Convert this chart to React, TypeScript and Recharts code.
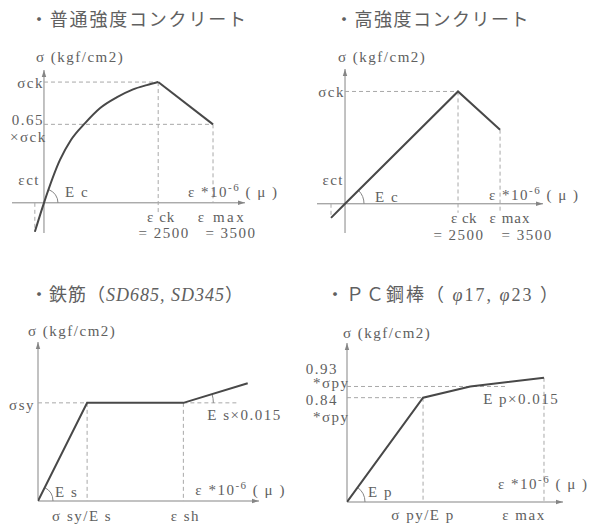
import type { ReactNode } from "react";
import { Line, LineChart, ReferenceDot, ReferenceLine, XAxis, YAxis } from "recharts";

// 普通強度コンクリート: ε (×10^-6) / σ÷σck
const ncRiseStrain = [-200, 0, 350, 590, 900, 1230, 1600, 1950, 2250, 2500];
const ncRiseStress = [-0.24, 0, 0.355, 0.52, 0.66, 0.785, 0.875, 0.94, 0.975, 1];
const ncFallStrain = [2500, 3700];
const ncFallStress = [1, 0.65];

// 高強度コンクリート
const hcStrain = [-310, 0, 2500, 3430];
const hcStress = [-0.125, 0, 1, 0.66];

// 鉄筋: ε ÷ (σsy/Es) / σ÷σsy
const rbStrain = [0, 1, 2.96, 4.27];
const rbStress = [0, 1, 1, 1.2];

// PC鋼棒: ε ÷ (σpy/Ep) / σ÷σpy
const pcStrain = [0, 1, 1.62, 2.59];
const pcStress = [0, 0.84, 0.93, 1];

const titles = ["・普通強度コンクリート", "・高強度コンクリート", "・鉄筋（", "・ＰＣ鋼棒（ "];
const yUnit = "σ (kgf/cm2)";
const ncTicks = ["σck", "0.65", "×σck", "εct", "E c"];
const ncXTicks = ["ε ck", "= 2500", "ε max", "= 3500"];
const rbTicks = ["σsy", "E s", "E s×0.015", "σ sy/E s", "ε sh"];
const pcTicks = ["0.93", "*σpy", "0.84", "*σpy", "E p×0.015", "E p", "σ py/E p", "ε max"];

const AXIS = "#858585";
const CURVE = "#484848";
const GUIDE = "#a8a8a8";
const INK = "#606060";
const FONT = "'Liberation Serif', 'Noto Sans CJK JP', serif";

type P = { x: number; y: number };
const pts = (xs: number[], ys: number[]): P[] => xs.map((x, i) => ({ x, y: ys[i] }));

const axisH = (p: any) => {
  const xs = Math.min(p.x1, p.x2);
  const xe = Math.max(p.x1, p.x2);
  return (
    <g>
      <line x1={xs} y1={p.y1} x2={xe} y2={p.y1} stroke={AXIS} strokeWidth={1} />
      <path d={`M${xe},${p.y1} l-7,-2.2 l0,4.4 z`} fill={AXIS} />
    </g>
  );
};

const axisV = (p: any) => {
  const ys = Math.min(p.y1, p.y2);
  const ye = Math.max(p.y1, p.y2);
  return (
    <g>
      <line x1={p.x1} y1={ys} x2={p.x1} y2={ye} stroke={AXIS} strokeWidth={1} />
      <path d={`M${p.x1},${ys} l-2.2,7 l4.4,0 z`} fill={AXIS} />
    </g>
  );
};

// angle mark from the horizontal up to the segment's direction
const arc = (r: number) => (p: any) => {
  const a = Math.atan2(p.y1 - p.y2, p.x2 - p.x1);
  const ex = p.x1 + r * Math.cos(a);
  const ey = p.y1 - r * Math.sin(a);
  return <path d={`M${p.x1 + r},${p.y1} A${r},${r} 0 0 0 ${ex},${ey}`} fill="none" stroke={AXIS} />;
};

const guide = (key: string, a: P, b: P) => (
  <ReferenceLine
    key={key}
    segment={[a, b]}
    stroke={GUIDE}
    strokeDasharray="4 3"
    ifOverflow="visible"
  />
);

const note = (
  key: string,
  x: number,
  y: number,
  content: ReactNode,
  dx: number,
  dy: number,
  anchor: "start" | "middle" | "end" = "start",
  spacing = 1.5,
) => (
  <ReferenceDot
    key={key}
    x={x}
    y={y}
    r={0}
    ifOverflow="visible"
    shape={(p: any) => (
      <text
        x={p.cx + dx}
        y={p.cy + dy}
        textAnchor={anchor}
        fontSize={15}
        fontFamily={FONT}
        fill={INK}
        letterSpacing={spacing}
      >
        {content}
      </text>
    )}
  />
);

const strainUnit = (
  <>
    <tspan>ε *10</tspan>
    <tspan dy={-6} fontSize={11}>
      -6
    </tspan>
    <tspan dy={6}>{"  ( μ )"}</tspan>
  </>
);

const curve = (key: string, data: P[], type: "linear" | "monotone" = "linear") => (
  <Line
    key={key}
    data={data}
    dataKey="y"
    type={type}
    stroke={CURVE}
    strokeWidth={2}
    dot={false}
    activeDot={false}
    isAnimationActive={false}
  />
);

const axes = (xd: [number, number], yd: [number, number]) => [
  <XAxis key="xa" type="number" dataKey="x" domain={xd} hide allowDataOverflow />,
  <YAxis key="ya" type="number" domain={yd} hide allowDataOverflow />,
  <ReferenceLine key="x0" y={0} shape={axisH} ifOverflow="visible" />,
  <ReferenceLine key="y0" x={0} shape={axisV} ifOverflow="visible" />,
];

function NormalConcrete() {
  const rise = pts(ncRiseStrain, ncRiseStress);
  const fall = pts(ncFallStrain, ncFallStress);
  const [eck, emax] = ncFallStrain;
  const [top, low] = ncFallStress;
  const s = rise[0];
  return (
    <LineChart width={294} height={262} margin={{ top: 70, right: 49, bottom: 29, left: 12 }}>
      {axes([-700, 4400], [-0.25, 1.1])}
      {guide("g1", { x: 0, y: top }, { x: eck, y: top })}
      {guide("g2", { x: 0, y: low }, { x: emax, y: low })}
      {guide("g3", { x: eck, y: top }, { x: eck, y: -0.1 })}
      {guide("g4", { x: emax, y: low }, { x: emax, y: 0 })}
      {guide("g5", { x: s.x, y: 0 }, { x: s.x, y: s.y })}
      <ReferenceLine segment={[rise[1], rise[2]]} shape={arc(14)} ifOverflow="visible" />
      {curve("c1", rise, "monotone")}
      {curve("c2", fall)}
      {note("u", 0, 1.1, yUnit, -8, -8)}
      {note("t1", 0, top, ncTicks[0], 0, 6, "end")}
      {note("t2", 0, low, ncTicks[1], 0, 1, "end")}
      {note("t3", 0, low, ncTicks[2], -34, 18)}
      {note("t4", 0, 0, ncTicks[3], -4, -18, "end")}
      {note("t5", 0, 0, ncTicks[4], 21, -6)}
      {note("t6", emax, 0, strainUnit, -25, -6)}
      {note("x1", eck, 0, ncXTicks[0], 3, 19, "middle", 1)}
      {note("x2", eck, 0, ncXTicks[1], 6, 35, "middle")}
      {note("x3", emax, 0, ncXTicks[2], 9, 19, "middle", 2.5)}
      {note("x4", emax, 0, ncXTicks[3], 18, 35, "middle")}
    </LineChart>
  );
}

function HighConcrete() {
  const line = pts(hcStrain, hcStress);
  const [s, o, peak, end] = line;
  return (
    <LineChart width={294} height={262} margin={{ top: 69, right: 46, bottom: 29, left: 22 }}>
      {axes([-620, 4380], [-0.26, 1.2])}
      {guide("g1", { x: 0, y: peak.y }, peak)}
      {guide("g2", peak, { x: peak.x, y: -0.08 })}
      {guide("g3", end, { x: end.x, y: -0.08 })}
      {guide("g4", { x: s.x, y: 0 }, s)}
      <ReferenceLine segment={[o, peak]} shape={arc(19)} ifOverflow="visible" />
      {curve("c1", line)}
      {note("u", 0, 1.2, yUnit, -7, -7)}
      {note("t1", 0, peak.y, ncTicks[0], 0, 5.5, "end")}
      {note("t4", 0, 0, ncTicks[3], -1, -19, "end")}
      {note("t5", 0, 0, ncTicks[4], 30, -2)}
      {note("t6", end.x, 0, strainUnit, -11, -4)}
      {note("x1", peak.x, 0, ncXTicks[0], 6, 19, "middle", 0.5)}
      {note("x2", peak.x, 0, ncXTicks[1], 1, 36, "middle")}
      {note("x3", end.x, 0, ncXTicks[2], 10, 19, "middle", 1)}
      {note("x4", end.x, 0, ncXTicks[3], 27, 36, "middle")}
    </LineChart>
  );
}

function Rebar() {
  const line = pts(rbStrain, rbStress);
  const [o, yld, sh, end] = line;
  return (
    <LineChart width={294} height={262} margin={{ top: 80, right: 35, bottom: 23, left: 38 }}>
      {axes([0, 4.5], [0, 1.62])}
      {guide("g1", { x: 0, y: yld.y }, yld)}
      {guide("g2", sh, { x: 4.08, y: sh.y })}
      {guide("g3", yld, { x: yld.x, y: 0 })}
      {guide("g4", sh, { x: sh.x, y: 0 })}
      <ReferenceLine segment={[o, yld]} shape={arc(15)} ifOverflow="visible" />
      <ReferenceLine segment={[sh, end]} shape={arc(30)} ifOverflow="visible" />
      {curve("c1", line)}
      {note("u", 0, 1.62, yUnit, -10, -6)}
      {note("t1", 0, yld.y, rbTicks[0], -3, 7, "end")}
      {note("t2", 0, 0, rbTicks[1], 17, -4)}
      {note("t3", sh.x, sh.y, rbTicks[2], 24, 17)}
      {note("t4", sh.x, 0, strainUnit, 12, -6)}
      {note("x1", yld.x, 0, rbTicks[3], -5, 20, "middle")}
      {note("x2", sh.x, 0, rbTicks[4], 2, 20, "middle")}
    </LineChart>
  );
}

function PcBar() {
  const line = pts(pcStrain, pcStress);
  const [o, knee, mid, end] = line;
  return (
    <LineChart width={294} height={262} margin={{ top: 81, right: 26, bottom: 22, left: 52 }}>
      {axes([0, 2.84], [0, 1.28])}
      {guide("g1", { x: 0, y: knee.y }, knee)}
      {guide("g2", { x: 0, y: mid.y }, { x: 2.08, y: mid.y })}
      {guide("g3", knee, { x: knee.x, y: 0 })}
      {guide("g4", end, { x: end.x, y: 0 })}
      <ReferenceLine segment={[o, knee]} shape={arc(18)} ifOverflow="visible" />
      {curve("c1", line)}
      {note("u", 0, 1.28, yUnit, -4, -5)}
      {note("t1", 0, mid.y, pcTicks[0], -9, -12, "end")}
      {note("t2", 0, mid.y, pcTicks[1], -34, 2)}
      {note("t3", 0, knee.y, pcTicks[2], -9, 7, "end")}
      {note("t4", 0, knee.y, pcTicks[3], -34, 24)}
      {note("t5", mid.x, mid.y, pcTicks[4], 13, 18)}
      {note("t6", 0, 0, pcTicks[5], 21, -5)}
      {note("t7", end.x, 0, strainUnit, -46, -13)}
      {note("x1", knee.x, 0, pcTicks[6], 0, 18, "middle")}
      {note("x2", end.x, 0, pcTicks[7], -20, 18, "middle")}
    </LineChart>
  );
}

const titleStyle = {
  position: "absolute" as const,
  fontFamily: FONT,
  fontSize: 18,
  lineHeight: "18px",
  letterSpacing: 1.8,
  color: INK,
  whiteSpace: "pre" as const,
};

const at = (left: number, top: number, child: ReactNode) => (
  <div style={{ position: "absolute", left, top }}>{child}</div>
);

export default function App() {
  return (
    <div
      style={{
        position: "absolute",
        left: 0,
        top: 0,
        width: 589,
        height: 524,
        background: "#fff",
        overflow: "hidden",
      }}
    >
      <style>{".recharts-surface{overflow:visible}"}</style>
      <div style={{ ...titleStyle, left: 30, top: 11 }}>{titles[0]}</div>
      <div style={{ ...titleStyle, left: 335, top: 11, letterSpacing: 1.5 }}>{titles[1]}</div>
      <div style={{ ...titleStyle, left: 30, top: 286, letterSpacing: 1 }}>
        {titles[2]}
        <i>SD685, SD345</i>）
      </div>
      <div style={{ ...titleStyle, left: 326, top: 286, letterSpacing: 2 }}>
        {titles[3]}
        <i>φ</i>17, <i>φ</i>23 ）
      </div>
      {at(0, 0, <NormalConcrete />)}
      {at(295, 0, <HighConcrete />)}
      {at(0, 262, <Rebar />)}
      {at(295, 262, <PcBar />)}
    </div>
  );
}
